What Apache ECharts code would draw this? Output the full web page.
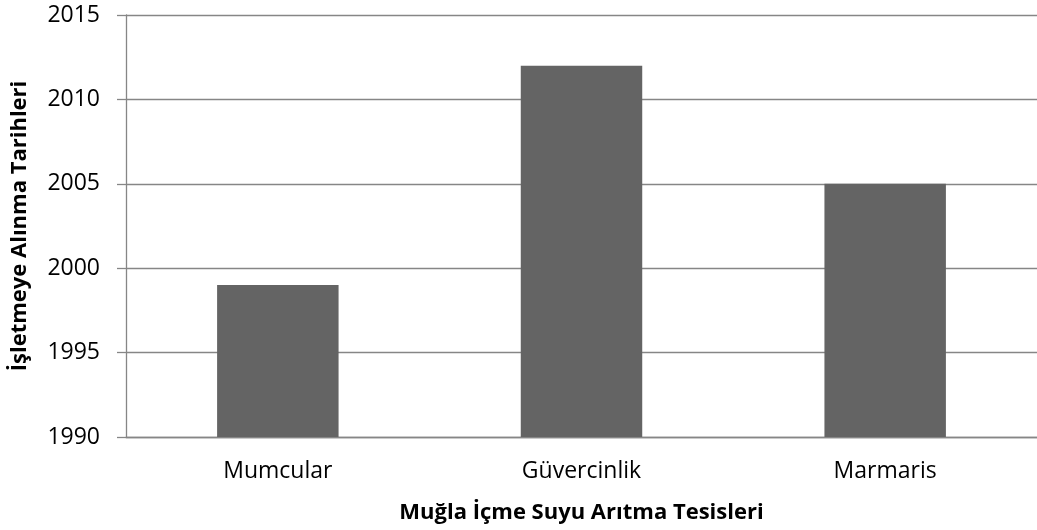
<!DOCTYPE html>
<html><head><meta charset="utf-8">
<script src="https://cdn.jsdelivr.net/npm/echarts@6/dist/echarts.min.js"></script>
<style>html,body{margin:0;padding:0;background:#fff}#c{width:1037px;height:530px}</style>
</head><body><div id="c"></div>
<script>
const categories = ["Mumcular", "Güvercinlik", "Marmaris"];
const values = [1999, 2012, 2005];
const yTicks = [1990, 1995, 2000, 2005, 2010, 2015];
const yTitle = "İşletmeye Alınma Tarihleri";
const xTitle = "Muğla İçme Suyu Arıtma Tesisleri";

const chart = echarts.init(document.getElementById('c'), null, {renderer: 'canvas'});
const font = "'Open Sans', 'Noto Sans', sans-serif";
chart.setOption({
  animation: false,
  grid: {left: 126, right: 0, top: 15, bottom: 93, containLabel: false, outerBoundsMode: 'none'},
  xAxis: {
    type: 'category', data: categories,
    axisLine: {show: true, lineStyle: {color: '#868686', width: 1.3}},
    axisTick: {show: false},
    axisLabel: {color: '#000', fontSize: 23, fontFamily: font, margin: 23},
    name: xTitle, nameLocation: 'middle', nameGap: 65,
    nameTextStyle: {color: '#000', fontSize: 22, fontWeight: 'bold', fontFamily: font}
  },
  yAxis: {
    type: 'value', min: yTicks[0], max: yTicks[yTicks.length - 1], interval: 5,
    axisLine: {show: true, lineStyle: {color: '#868686', width: 1.3}},
    axisTick: {show: true, length: 9, lineStyle: {color: '#868686', width: 1.3}},
    splitLine: {show: true, lineStyle: {color: '#868686', width: 1.3}},
    axisLabel: {color: '#000', fontSize: 23, fontFamily: font, margin: 26,
      formatter: function (v) { return String(v); }},
    name: yTitle, nameLocation: 'middle', nameGap: 95, nameRotate: 90,
    nameTextStyle: {color: '#000', fontSize: 22, fontWeight: 'bold', fontFamily: font}
  },
  series: [{
    type: 'bar', data: values, barWidth: '40%',
    itemStyle: {color: '#646464'}
  }]
});
</script></body></html>
